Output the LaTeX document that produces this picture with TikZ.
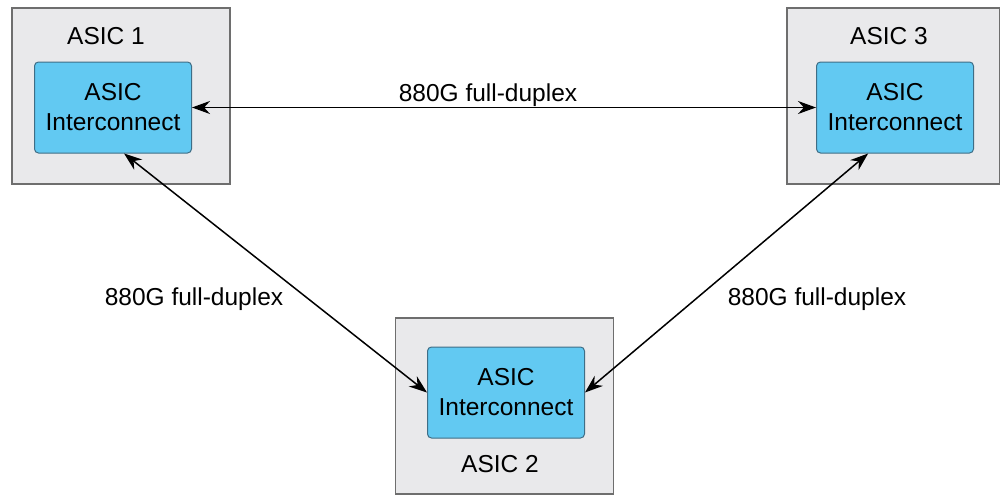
\documentclass[tikz,border=0pt]{standalone}
\usepackage{fontspec}
\setmainfont{Liberation Sans}
\usetikzlibrary{arrows.meta,calc}
\definecolor{outerfill}{HTML}{E9E9EB}
\definecolor{outerdraw}{HTML}{6E6E6E}
\definecolor{innerfill}{HTML}{62C9F2}
\definecolor{innerdraw}{HTML}{3F6E86}
\tikzset{
  outerbox/.style={draw=outerdraw, fill=outerfill, line width=1.5pt, minimum width=218pt, minimum height=176pt, inner sep=0pt},
  innerbox/.style={draw=innerdraw, fill=innerfill, line width=1pt, rounded corners=4pt, minimum width=157pt, minimum height=91pt, inner sep=0pt, align=center, font=\fontsize{24.5}{30}\selectfont},
  lbl/.style={font=\fontsize{24.5}{29}\selectfont, inner sep=0pt},
  link/.style={{Stealth[length=18pt,width=13pt]}-{Stealth[length=18pt,width=13pt]}, line width=1.5pt, black}
}
\begin{document}
\begin{tikzpicture}[x=1pt,y=-1pt]
\useasboundingbox (0,0) rectangle (1000,495);
\node[outerbox] (o1) at (121,96) {};
\node[outerbox, minimum width=213pt] (o3) at (893.5,96) {};
\node[outerbox, minimum height=176pt] (o2) at (504.5,406) {};
\node[innerbox] (i1) at (113,107.5) {ASIC\\Interconnect};
\node[innerbox] (i3) at (895,107.5) {ASIC\\Interconnect};
\node[innerbox] (i2) at (506,392.5) {ASIC\\Interconnect};
\node[lbl] (t1) at (106,36) {ASIC 1};
\node[lbl] (t3) at (889,36) {ASIC 3};
\node[lbl] (t2) at (500,464) {ASIC 2};
\coordinate (a1) at ($(i1.south west)!0.57!(i1.south east)$);
\coordinate (a3) at ($(i3.south west)!0.33!(i3.south east)$);
\draw[link] (i1.east) -- (i3.west);
\draw[link] (a1) -- (i2.west);
\draw[link] (a3) -- (i2.east);
\node[lbl] (l1) at (488,95) {880G full-duplex};
\node[lbl] (l2) at (194,299) {880G full-duplex};
\node[lbl] (l3) at (817,299) {880G full-duplex};
\end{tikzpicture}
\end{document}
